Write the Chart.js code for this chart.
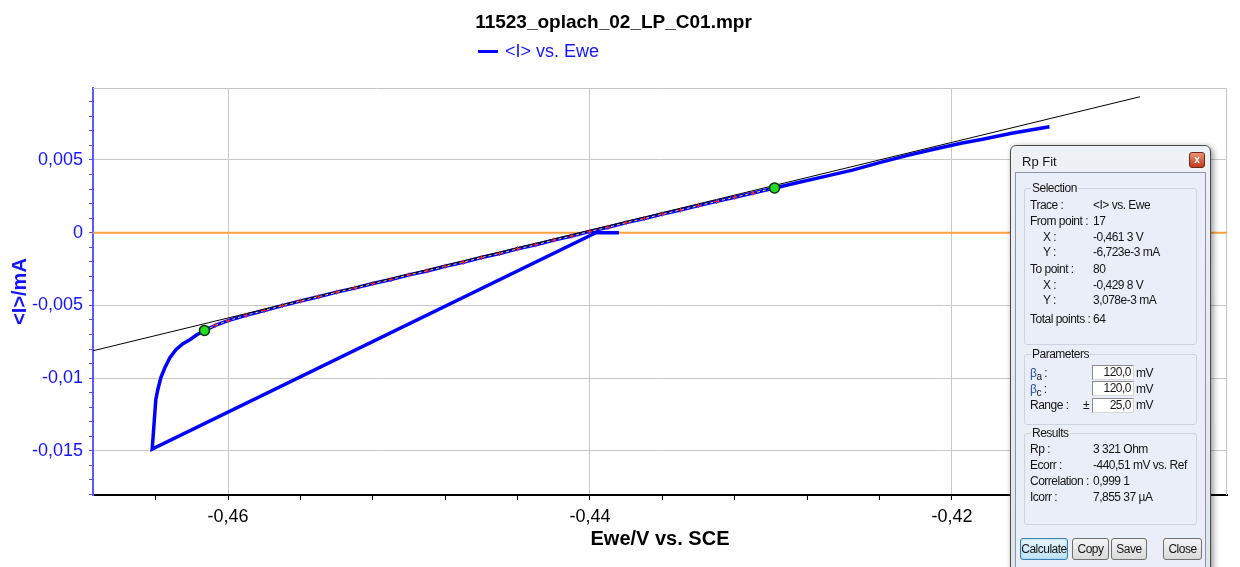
<!DOCTYPE html>
<html>
<head>
<meta charset="utf-8">
<script src="https://cdn.jsdelivr.net/npm/chart.js@4.4.1/dist/chart.umd.min.js"></script>
<style>
html,body{margin:0;padding:0;background:#fff;overflow:hidden;}
#wrap{position:relative;width:1240px;height:567px;overflow:hidden;}
#legend{position:absolute;left:478px;top:41px;font:18px/20px "Liberation Sans",Arial,sans-serif;color:#1414ff;white-space:nowrap;}
#legend .ln{display:inline-block;width:20px;height:3px;background:#0000ff;vertical-align:middle;margin-right:7px;position:relative;top:-1px;}
#rp{position:absolute;left:1010px;top:145px;width:201px;height:430px;box-sizing:border-box;background:linear-gradient(#eef1f5,#dfe5ec);border:1px solid #4a4a4a;border-radius:6px 6px 0 0;box-shadow:2px 2px 6px rgba(0,0,0,.45);font:12px "Liberation Sans",Arial,sans-serif;letter-spacing:-0.5px;color:#151515;}
#rp *{box-sizing:border-box;}
#rp .cap{position:absolute;left:11px;top:8px;font-size:13px;letter-spacing:0;}
#rp .cls{position:absolute;left:178px;top:6px;width:16px;height:16px;border:1px solid #6e2616;border-radius:3px;background:linear-gradient(#eb9377,#c23a1d);color:#fff;font:bold 10px/14px sans-serif;text-align:center;letter-spacing:0;}
#rp .pnl{position:absolute;left:4px;top:26px;width:191px;height:400px;background:#e9eef8;border:1px solid #8b95a3;}
#rp .grp{position:absolute;left:8px;width:173px;border:1px solid #cdd4e0;border-radius:3px;}
#rp .gl{position:absolute;left:15px;line-height:14px;background:#e9eef8;padding:0 1px;}
#rp .r{position:absolute;line-height:14px;white-space:nowrap;}
#rp .inp{position:absolute;left:76px;width:42px;height:15px;background:#fff;border:1px solid #8a8a8a;border-right-color:#d8d8d8;border-bottom-color:#d8d8d8;text-align:right;padding-right:2px;line-height:13px;}
#rp .b{position:absolute;top:365px;height:22px;border:1px solid #707070;border-radius:3px;background:linear-gradient(#f4f4f4,#dadada);text-align:center;line-height:20px;}
#rp .b.on{border-color:#3c7fb1;background:linear-gradient(#e6f5fd,#bfe2f5);box-shadow:inset 0 0 2px #6fd0f7;}
#rp .be{color:#2a4fa0;}
</style>
</head>
<body>
<div id="wrap">
<canvas id="chart" width="1240" height="567"></canvas>
<div id="legend"><span class="ln"></span>&lt;I&gt; vs. Ewe</div>
<div id="rp">
  <div class="cap">Rp Fit</div>
  <div class="cls">x</div>
  <div class="pnl">
    <div class="grp" style="top:15px;height:157px"></div>
    <div class="gl" style="top:8px">Selection</div>
    <div class="r" style="top:25px;left:14px">Trace :</div><div class="r" style="top:25px;left:77px">&lt;I&gt; vs. Ewe</div>
    <div class="r" style="top:41px;left:14px">From point :</div><div class="r" style="top:41px;left:77px">17</div>
    <div class="r" style="top:57px;left:27px">X :</div><div class="r" style="top:57px;left:77px">-0,461 3 V</div>
    <div class="r" style="top:72px;left:27px">Y :</div><div class="r" style="top:72px;left:77px">-6,723e-3 mA</div>
    <div class="r" style="top:89px;left:14px">To point :</div><div class="r" style="top:89px;left:77px">80</div>
    <div class="r" style="top:105px;left:27px">X :</div><div class="r" style="top:105px;left:77px">-0,429 8 V</div>
    <div class="r" style="top:120px;left:27px">Y :</div><div class="r" style="top:120px;left:77px">3,078e-3 mA</div>
    <div class="r" style="top:139px;left:14px">Total points :</div><div class="r" style="top:139px;left:77px">64</div>

    <div class="grp" style="top:181px;height:71px"></div>
    <div class="gl" style="top:174px">Parameters</div>
    <div class="r" style="top:193px;left:14px"><span class="be">β</span><sub style="font-size:10px">a</sub> :</div>
    <div class="inp" style="top:192px">120,0</div><div class="r" style="top:193px;left:120px">mV</div>
    <div class="r" style="top:209px;left:14px"><span class="be">β</span><sub style="font-size:10px">c</sub> :</div>
    <div class="inp" style="top:208px">120,0</div><div class="r" style="top:209px;left:120px">mV</div>
    <div class="r" style="top:225px;left:14px">Range :</div><div class="r" style="top:225px;left:67px">±</div>
    <div class="inp" style="top:225px">25,0</div><div class="r" style="top:225px;left:120px">mV</div>

    <div class="grp" style="top:260px;height:92px"></div>
    <div class="gl" style="top:253px">Results</div>
    <div class="r" style="top:269px;left:14px">Rp :</div><div class="r" style="top:269px;left:77px">3 321 Ohm</div>
    <div class="r" style="top:285px;left:14px">Ecorr :</div><div class="r" style="top:285px;left:77px">-440,51 mV vs. Ref</div>
    <div class="r" style="top:301px;left:14px">Correlation :</div><div class="r" style="top:301px;left:77px">0,999 1</div>
    <div class="r" style="top:317px;left:14px">Icorr :</div><div class="r" style="top:317px;left:77px">7,855 37 µA</div>

    <div class="b on" style="left:4px;width:48px">Calculate</div>
    <div class="b" style="left:56px;width:37px">Copy</div>
    <div class="b" style="left:95px;width:36px">Save</div>
    <div class="b" style="left:147px;width:39px">Close</div>
  </div>
</div>
</div>
<script>
// Ewe (V) / <I> (mA) - 측정 곡선
var curveE = [-0.4384, -0.43967, -0.46419, -0.46413, -0.46407, -0.46399, -0.46388, -0.46371, -0.46349, -0.46321,
	-0.46288, -0.46249, -0.46211, -0.46172, -0.4613, -0.4607, -0.4600, -0.4590, -0.4580, -0.4570,
	-0.4560, -0.4550, -0.4540, -0.4530, -0.4520, -0.4510, -0.4500, -0.4490, -0.4480, -0.4470,
	-0.4460, -0.4450, -0.4440, -0.4430, -0.4420, -0.4410, -0.4400, -0.4390, -0.4380, -0.4370,
	-0.4360, -0.4350, -0.4340, -0.4330, -0.4320, -0.4310, -0.4298, -0.4285, -0.4270, -0.4255,
	-0.4240, -0.4225, -0.4210, -0.4195, -0.4183, -0.4167, -0.41461];
var curveI = [0, 0, -0.01488, -0.01389, -0.01286, -0.01149, -0.01080, -0.00997, -0.00929, -0.00860,
	-0.00805, -0.00763, -0.00736, -0.00702, -0.006723, -0.00638, -0.00605, -0.00568, -0.00535, -0.00502,
	-0.00470, -0.00441, -0.00409, -0.00381, -0.00350, -0.00322, -0.00290, -0.00263, -0.00231, -0.00203,
	-0.00171, -0.00143, -0.00111, -0.00083, -0.00051, -0.00023, 0.00009, 0.00037, 0.00069, 0.00097,
	0.00128, 0.00156, 0.00186, 0.00215, 0.00244, 0.00272, 0.003078, 0.00345, 0.00387, 0.00430,
	0.00482, 0.00530, 0.00574, 0.00615, 0.00643, 0.00684, 0.00729];
var fitFrom = 14, fitTo = 46;

// Rp fit line
var fitLineE = [-0.46746, -0.4096];
var fitLineI = [-0.00812, 0.00935];
var fitPtE = [-0.4613, -0.4298];
var fitPtI = [-0.006723, 0.003078];
var zeroE = [-0.46746, -0.4048];
var zeroI = [0, 0];

var xMajor = [-0.46, -0.44, -0.42];
var xLabels = ['-0,46', '-0,44', '-0,42'];
var yMajor = [0.005, 0, -0.005, -0.01, -0.015];
var yLabels = ['0,005', '0', '-0,005', '-0,01', '-0,015'];

function pts(e, i) {
	var out = [];
	for (var k = 0; k < e.length; k++) out.push({x: e[k], y: i[k]});
	return out;
}
function majorIdx(list, v) {
	for (var k = 0; k < list.length; k++) {
		if (Math.abs(list[k] - v) < 1e-7) return k;
	}
	return -1;
}
function steps(from, to, step) {
	var t = [];
	for (var v = from; v <= to + 1e-9; v += step) t.push({value: Math.round(v * 1e6) / 1e6});
	return t;
}

var frame = {
	id: 'frame',
	beforeDatasetsDraw: function(chart) {
		var a = chart.chartArea, ctx = chart.ctx;
		ctx.save();
		ctx.strokeStyle = '#c4c4c4';
		ctx.lineWidth = 1;
		ctx.beginPath();
		ctx.moveTo(a.left, a.top + 0.5);
		ctx.lineTo(a.right - 0.5, a.top + 0.5);
		ctx.lineTo(a.right - 0.5, a.bottom);
		ctx.stroke();
		ctx.restore();
	}
};

Chart.defaults.font.family = '"Liberation Sans", Arial, sans-serif';

var curvePts = pts(curveE, curveI);

new Chart(document.getElementById('chart').getContext('2d'), {
	type: 'scatter',
	data: {
		datasets: [{
			label: 'fit points',
			data: pts(fitPtE, fitPtI),
			showLine: false,
			pointRadius: 5,
			pointBackgroundColor: '#22dd22',
			pointBorderColor: '#0c300c',
			pointBorderWidth: 1.5
		}, {
			label: 'fit range',
			data: curvePts.slice(fitFrom, fitTo + 1),
			showLine: true,
			borderColor: '#ffd800',
			borderWidth: 1,
			borderDash: [3, 3],
			pointStyle: 'cross',
			pointRadius: 2.5,
			pointBorderColor: '#ff2020',
			pointBorderWidth: 1
		}, {
			label: 'Rp fit',
			data: pts(fitLineE, fitLineI),
			showLine: true,
			borderColor: '#000000',
			borderWidth: 1,
			pointRadius: 0
		}, {
			label: '<I> vs. Ewe',
			data: curvePts,
			showLine: true,
			borderColor: '#0000ff',
			borderWidth: 3.5,
			pointRadius: 0,
			tension: 0
		}, {
			label: 'zero',
			data: pts(zeroE, zeroI),
			showLine: true,
			borderColor: '#f9a23e',
			borderWidth: 2,
			pointRadius: 0
		}]
	},
	options: {
		responsive: false,
		animation: false,
		devicePixelRatio: 1,
		layout: { padding: { left: 0, right: 13, top: 0, bottom: 0 } },
		plugins: {
			legend: { display: false },
			tooltip: { enabled: false },
			title: {
				display: true,
				text: '11523_oplach_02_LP_C01.mpr',
				color: '#000000',
				font: { size: 19, weight: 'bold' },
				padding: { top: 11, bottom: 54.2 }
			}
		},
		scales: {
			x: {
				type: 'linear',
				min: -0.46746,
				max: -0.4048,
				afterFit: function(s) { s.height = 72; },
				afterBuildTicks: function(s) { s.ticks = steps(-0.464, -0.408, 0.004); },
				ticks: {
					color: '#000000',
					font: { size: 18 },
					padding: 6,
					maxRotation: 0,
					autoSkip: false,
					callback: function(v) {
						var k = majorIdx(xMajor, v);
						return k < 0 ? '' : xLabels[k];
					}
				},
				grid: {
					color: function(c) { return c.tick && majorIdx(xMajor, c.tick.value) >= 0 ? '#c8c8c8' : 'rgba(0,0,0,0)'; },
					tickColor: '#000000',
					tickLength: 5,
					lineWidth: 1
				},
				border: { color: '#000000', width: 2 },
				title: {
					display: true,
					text: 'Ewe/V vs. SCE',
					color: '#000000',
					font: { size: 20, weight: 'bold' },
					padding: { top: 0, bottom: 16 }
				}
			},
			y: {
				type: 'linear',
				min: -0.01804,
				max: 0.00995,
				afterFit: function(s) { s.width = 93; },
				afterBuildTicks: function(s) { s.ticks = steps(-0.018, 0.009, 0.001); },
				ticks: {
					color: '#1414ff',
					font: { size: 18 },
					padding: 6,
					autoSkip: false,
					callback: function(v) {
						var k = majorIdx(yMajor, v);
						return k < 0 ? '' : yLabels[k];
					}
				},
				grid: {
					color: function(c) { return c.tick && majorIdx(yMajor, c.tick.value) >= 0 ? '#c8c8c8' : 'rgba(0,0,0,0)'; },
					tickColor: '#4d4dff',
					tickLength: 4,
					lineWidth: 1
				},
				border: { color: '#5a5aff', width: 2 },
				title: {
					display: true,
					text: '<I>/mA',
					color: '#1414ff',
					font: { size: 20, weight: 'bold' },
					padding: { top: 8, bottom: 0 }
				}
			}
		}
	},
	plugins: [frame]
});
</script>
</body>
</html>
